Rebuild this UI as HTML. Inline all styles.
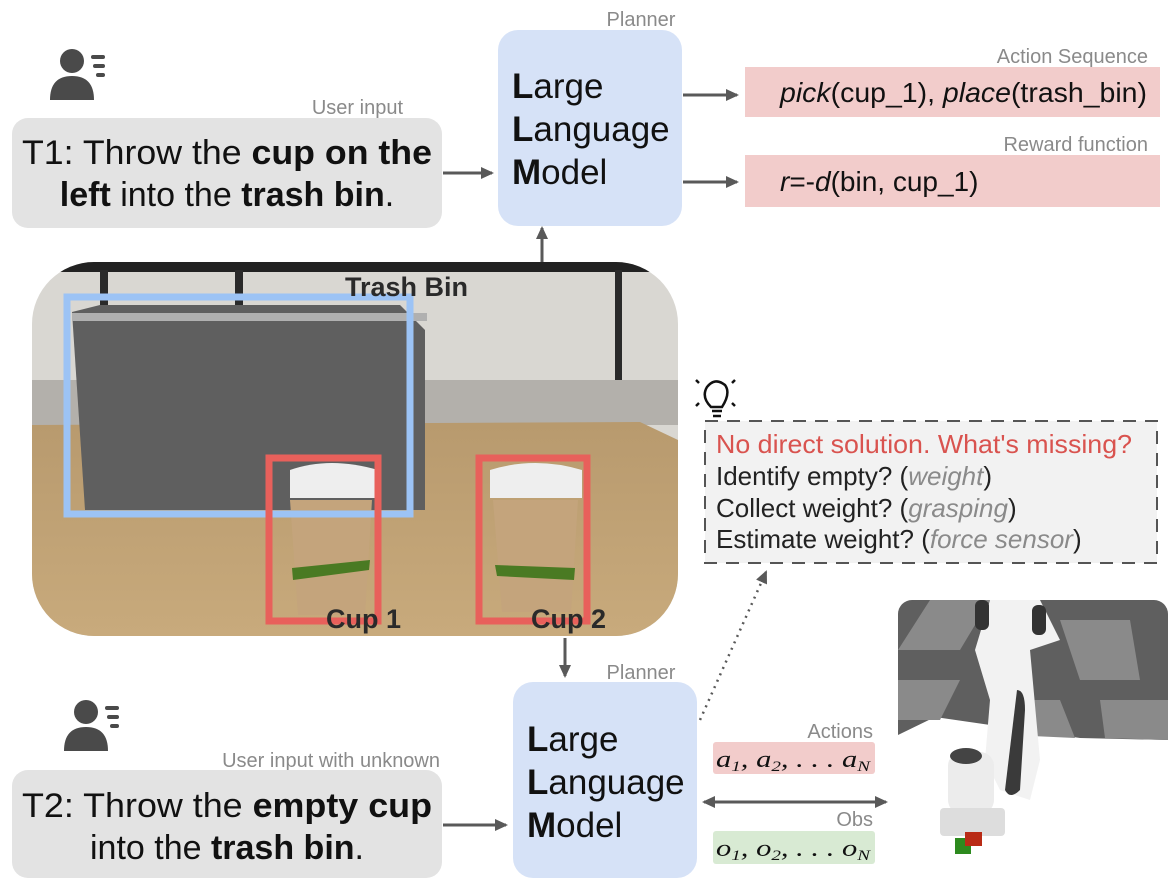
<!DOCTYPE html>
<html><head><meta charset="utf-8"><style>
html,body{margin:0;padding:0;background:#fff;}
svg{display:block;font-family:"Liberation Sans",Arial,sans-serif;}
</style></head><body>
<svg width="1172" height="892" viewBox="0 0 1172 892" xmlns="http://www.w3.org/2000/svg">
<defs>
<marker id="ah" markerWidth="14" markerHeight="14" refX="11" refY="6" orient="auto" markerUnits="userSpaceOnUse">
<path d="M0,0 L13,6 L0,12 z" fill="#595959"/></marker>
<marker id="ahs" markerWidth="14" markerHeight="14" refX="2" refY="6" orient="auto" markerUnits="userSpaceOnUse">
<path d="M13,0 L0,6 L13,12 z" fill="#595959"/></marker>
<clipPath id="ph"><rect x="32" y="262" width="646" height="374" rx="62"/></clipPath>
<clipPath id="rb"><rect x="898" y="600" width="270" height="272" rx="14"/></clipPath>
<linearGradient id="tbl" x1="0" y1="0" x2="0" y2="1"><stop offset="0" stop-color="#b89a6e"/><stop offset="1" stop-color="#c8aa7c"/></linearGradient>
</defs>

<!-- person icons -->
<g fill="#4a4a4a">
<circle cx="72" cy="61" r="12"/><path d="M50,100 q0,-24 22,-24 q22,0 22,24 z"/>
<rect x="91" y="55" width="14" height="4" rx="2"/><rect x="93" y="64" width="12" height="4" rx="2"/><rect x="96" y="73" width="9" height="4" rx="2"/>
<circle cx="86" cy="712" r="12"/><path d="M64,751 q0,-24 22,-24 q22,0 22,24 z"/>
<rect x="105" y="706" width="14" height="4" rx="2"/><rect x="107" y="715" width="12" height="4" rx="2"/><rect x="110" y="724" width="9" height="4" rx="2"/>
</g>

<!-- T1 -->
<text x="403" y="114" font-size="20" fill="#8a8a8a" text-anchor="end">User input</text>
<rect x="12" y="118" width="430" height="110" rx="16" fill="#e3e3e3"/>
<text x="22" y="164" font-size="34" fill="#111" textLength="410" lengthAdjust="spacingAndGlyphs">T1: Throw the <tspan font-weight="bold">cup on the</tspan></text>
<text x="227" y="206" font-size="34" fill="#111" text-anchor="middle"><tspan font-weight="bold">left</tspan> into the <tspan font-weight="bold">trash bin</tspan>.</text>
<line x1="443" y1="173" x2="492" y2="173" stroke="#595959" stroke-width="3" marker-end="url(#ah)"/>

<!-- LLM top -->
<text x="641" y="26" font-size="20" fill="#8a8a8a" text-anchor="middle">Planner</text>
<rect x="498" y="30" width="184" height="196" rx="20" fill="#d6e2f7"/>
<g font-size="35" fill="#111"><text x="512" y="98"><tspan font-weight="bold">L</tspan>arge</text>
<text x="512" y="141"><tspan font-weight="bold">L</tspan>anguage</text>
<text x="512" y="184"><tspan font-weight="bold">M</tspan>odel</text></g>
<line x1="683" y1="95" x2="737" y2="95" stroke="#595959" stroke-width="3" marker-end="url(#ah)"/>
<line x1="683" y1="182" x2="737" y2="182" stroke="#595959" stroke-width="3" marker-end="url(#ah)"/>
<text x="1148" y="63" font-size="20" fill="#8a8a8a" text-anchor="end">Action Sequence</text>
<rect x="745" y="67" width="415" height="50" fill="#f2cccb"/>
<text x="780" y="102" font-size="28" fill="#111" textLength="367" lengthAdjust="spacingAndGlyphs"><tspan font-style="italic">pick</tspan>(cup_1), <tspan font-style="italic">place</tspan>(trash_bin)</text>
<text x="1148" y="151" font-size="20" fill="#8a8a8a" text-anchor="end">Reward function</text>
<rect x="745" y="155" width="415" height="52" fill="#f2cccb"/>
<text x="780" y="191" font-size="28" fill="#111"><tspan font-style="italic">r</tspan>=-<tspan font-style="italic">d</tspan>(bin, cup_1)</text>

<line x1="542" y1="264" x2="542" y2="228" stroke="#595959" stroke-width="3" marker-end="url(#ah)"/>

<!-- photo -->
<g clip-path="url(#ph)">
<rect x="32" y="262" width="646" height="374" fill="#d9d7d2"/>
<rect x="32" y="262" width="646" height="10" fill="#222"/>
<rect x="100" y="270" width="8" height="60" fill="#2a2a2a"/>
<rect x="235" y="270" width="8" height="60" fill="#2a2a2a"/>
<rect x="615" y="270" width="7" height="160" fill="#2a2a2a"/>
<rect x="32" y="380" width="646" height="45" fill="#b3b0ab"/>
<path d="M32,425 L640,422 L678,440 L678,636 L32,636 z" fill="url(#tbl)"/>
<path d="M72,312 L100,305 L400,305 L425,330 L425,510 L85,510 z" fill="#5f5f5f"/>
<rect x="72" y="313" width="355" height="8" fill="#b0b0b0"/>
<path d="M290,500 L372,500 L365,615 L298,615 z" fill="#c4a47c"/>
<path d="M290,470 q40,-14 88,0 l0,28 l-88,0 z" fill="#eee"/>
<path d="M292,568 L370,560 L369,570 L293,580 z" fill="#4a7a23"/>
<path d="M493,500 L578,500 L571,612 L502,612 z" fill="#c4a47c"/>
<path d="M490,470 q45,-14 92,0 l0,28 l-92,0 z" fill="#eee"/>
<path d="M495,565 L575,568 L574,580 L497,576 z" fill="#4a7a23"/>
</g>
<rect x="67" y="297" width="343" height="217" fill="none" stroke="#9cc3f5" stroke-width="7"/>
<rect x="269" y="458" width="109" height="163" fill="none" stroke="#e8605b" stroke-width="7"/>
<rect x="479" y="458" width="108" height="163" fill="none" stroke="#e8605b" stroke-width="7"/>
<g font-size="27" font-weight="bold" fill="#2a2a2a">
<text x="345" y="296">Trash Bin</text>
<text x="326" y="628">Cup 1</text>
<text x="531" y="628">Cup 2</text></g>

<line x1="565" y1="638" x2="565" y2="676" stroke="#595959" stroke-width="3" marker-end="url(#ah)"/>

<!-- lightbulb -->
<g stroke="#111" stroke-width="2.5" fill="none">
<path d="M711,407 q-10,-10 -4,-20 q8,-10 18,-2 q6,8 -3,22 z"/>
<line x1="712" y1="411" x2="722" y2="411"/><line x1="713" y1="416" x2="721" y2="416"/>
<line x1="696" y1="380" x2="699" y2="383"/><line x1="735" y1="380" x2="732" y2="383"/>
<line x1="696" y1="406" x2="699" y2="403"/><line x1="735" y1="406" x2="732" y2="403"/>
</g>
<rect x="705" y="421" width="452" height="142" fill="#f2f2f2" stroke="#555" stroke-width="2" stroke-dasharray="13,9"/>
<g font-size="26" fill="#222">
<text x="716" y="453" fill="#d9534f" textLength="416" lengthAdjust="spacingAndGlyphs">No direct solution. What's missing?</text>
<text x="716" y="485">Identify empty? (<tspan fill="#8a8a8a" font-style="italic">weight</tspan>)</text>
<text x="716" y="517">Collect weight? (<tspan fill="#8a8a8a" font-style="italic">grasping</tspan>)</text>
<text x="716" y="548">Estimate weight? (<tspan fill="#8a8a8a" font-style="italic">force sensor</tspan>)</text>
</g>
<line x1="700" y1="720" x2="766" y2="572" stroke="#595959" stroke-width="2.5" stroke-dasharray="2,5" marker-end="url(#ah)"/>

<!-- robot -->
<g clip-path="url(#rb)">
<rect x="898" y="600" width="270" height="272" fill="#fff"/>
<path d="M898,600 L1168,600 L1168,740 L1080,738 L935,717 L898,735 z" fill="#5f5f5f"/>
<path d="M930,600 L990,600 L960,650 L898,650 z M1060,620 L1130,620 L1140,680 L1080,680 z M898,680 L960,680 L940,720 L898,720 z M1000,700 L1060,700 L1075,738 L1010,735 z M1100,700 L1168,700 L1168,740 L1105,738 z" fill="#8a8a8a"/>
<path d="M990,600 L1040,600 L1060,640 L1030,650 L1040,760 L1030,800 L1000,790 L985,760 L990,700 L975,650 z" fill="#f2f2f2"/>
<rect x="975" y="600" width="14" height="30" rx="6" fill="#333"/><rect x="1032" y="605" width="14" height="30" rx="6" fill="#333"/>
<path d="M1017,690 q8,0 8,20 l-5,80 q-10,10 -15,0 z" fill="#3a3a3a"/>
<rect x="948" y="752" width="46" height="62" rx="14" fill="#ececec"/>
<ellipse cx="966" cy="756" rx="16" ry="8" fill="#444"/>
<rect x="940" y="808" width="65" height="28" rx="4" fill="#ddd"/>
<rect x="955" y="838" width="16" height="16" fill="#2d8a1e"/><rect x="965" y="832" width="17" height="14" fill="#b92b16"/>
</g>

<!-- T2 -->
<text x="440" y="767" font-size="20" fill="#8a8a8a" text-anchor="end">User input with unknown</text>
<rect x="12" y="770" width="430" height="108" rx="16" fill="#e3e3e3"/>
<text x="22" y="817" font-size="34" fill="#111" textLength="410" lengthAdjust="spacingAndGlyphs">T2: Throw the <tspan font-weight="bold">empty cup</tspan></text>
<text x="227" y="859" font-size="34" fill="#111" text-anchor="middle">into the <tspan font-weight="bold">trash bin</tspan>.</text>
<line x1="443" y1="825" x2="506" y2="825" stroke="#595959" stroke-width="3" marker-end="url(#ah)"/>

<text x="641" y="679" font-size="20" fill="#8a8a8a" text-anchor="middle">Planner</text>
<rect x="513" y="682" width="184" height="196" rx="20" fill="#d6e2f7"/>
<g font-size="35" fill="#111"><text x="527" y="751"><tspan font-weight="bold">L</tspan>arge</text>
<text x="527" y="794"><tspan font-weight="bold">L</tspan>anguage</text>
<text x="527" y="837"><tspan font-weight="bold">M</tspan>odel</text></g>

<text x="873" y="738" font-size="20" fill="#8a8a8a" text-anchor="end">Actions</text>
<rect x="713" y="742" width="162" height="32" rx="3" fill="#f2cccb"/>
<text x="716" y="767" font-size="24" font-style="italic" fill="#111" font-family="Liberation Serif,serif" textLength="154" lengthAdjust="spacingAndGlyphs">a<tspan font-size="15" dy="4">1</tspan><tspan dy="-4">, a</tspan><tspan font-size="15" dy="4">2</tspan><tspan dy="-4">, . . . a</tspan><tspan font-size="15" dy="4">N</tspan></text>
<line x1="704" y1="802" x2="886" y2="802" stroke="#595959" stroke-width="3" marker-start="url(#ahs)" marker-end="url(#ah)"/>
<text x="873" y="826" font-size="20" fill="#8a8a8a" text-anchor="end">Obs</text>
<rect x="713" y="831" width="162" height="33" rx="3" fill="#d8ead3"/>
<text x="716" y="856" font-size="24" font-style="italic" fill="#111" font-family="Liberation Serif,serif" textLength="154" lengthAdjust="spacingAndGlyphs">o<tspan font-size="15" dy="4">1</tspan><tspan dy="-4">, o</tspan><tspan font-size="15" dy="4">2</tspan><tspan dy="-4">, . . . o</tspan><tspan font-size="15" dy="4">N</tspan></text>
</svg>
</body></html>
